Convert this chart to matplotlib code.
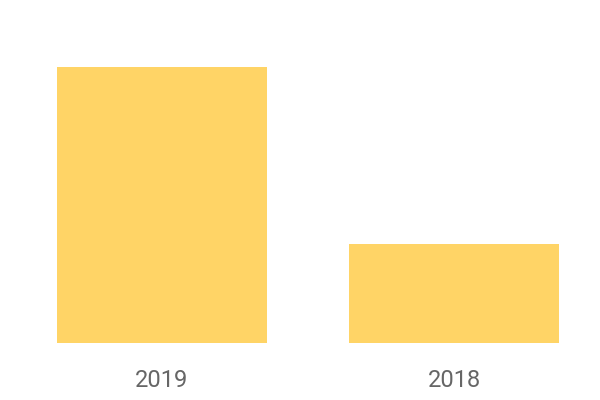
import matplotlib
matplotlib.use("Agg")
import matplotlib.pyplot as plt

years = ["2019", "2018"]
values = [28, 10]

plt.rcParams['font.family'] = ['Roboto', 'DejaVu Sans']

fig = plt.figure(figsize=(6, 4), dpi=100)
ax = fig.add_axes([57/600, 57/400, (559-57)/600, (343-67)/400])

ax.bar(range(len(years)), values, width=0.719, color='#FFD466')
ax.set_xlim(-0.3595, 1.3595)
ax.set_ylim(0, 28)
ax.set_xticks(range(len(years)))
ax.set_xticklabels(years, fontsize=17, color='#666666')
ax.tick_params(axis='x', length=0, pad=19)
ax.set_yticks([])
for s in ax.spines.values():
    s.set_visible(False)

fig.savefig("out.png", dpi=100)
